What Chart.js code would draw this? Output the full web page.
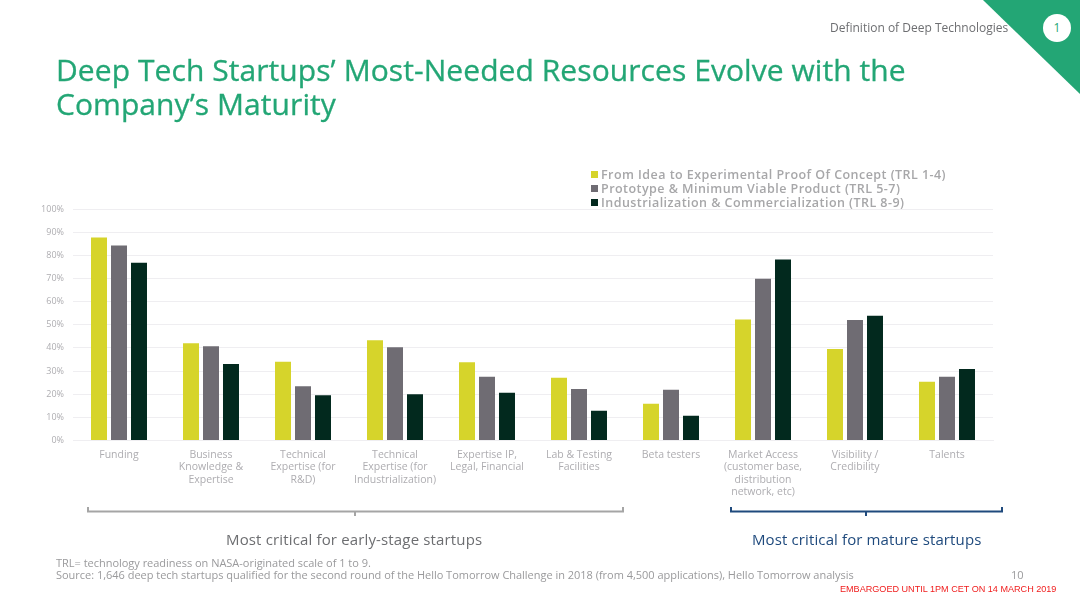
<!DOCTYPE html>
<html>
<head>
<meta charset="utf-8">
<script src="https://cdn.jsdelivr.net/npm/chart.js@4"></script>
<style>
    html, body { margin: 0; padding: 0; background: #fff; }
    body { width: 1080px; height: 608px; position: relative; overflow: hidden; font-family: "Open Sans", sans-serif; }
    #chart { position: absolute; left: 0; top: 0; }
    .txt { position: absolute; white-space: nowrap; }
    #title { left: 56px; top: 53px; font-size: 30px; line-height: 34px; letter-spacing: 0.07px; color: #23a675; -webkit-text-stroke: 0.3px #23a675; }
    #section { left: 830px; top: 20px; font-size: 12px; line-height: 16px; color: #6d6e71; }
    #badge { left: 1043px; top: 14px; width: 28px; height: 28px; border-radius: 50%; background: #fff; color: #23a675; font-size: 12px; line-height: 28px; text-align: center; }
    #legend { position: absolute; left: 591px; top: 168px; font-size: 12.5px; line-height: 14px; letter-spacing: 0.45px; font-weight: 600; color: #a7a7a9; white-space: nowrap; }
    #legend i { display: inline-block; width: 7px; height: 7px; margin-right: 3px; vertical-align: 1px; }
    #early { left: 226px; top: 530px; font-size: 15px; line-height: 18px; letter-spacing: 0.15px; color: #6d6e71; }
    #mature { left: 752px; top: 530px; font-size: 15px; line-height: 18px; letter-spacing: 0.12px; color: #1f4a7d; }
    #foot { left: 56px; top: 557px; font-size: 11px; line-height: 12px; letter-spacing: -0.02px; color: #9a9a9c; }
    #page { left: 1011px; top: 569px; font-size: 11px; line-height: 12px; color: #9a9a9c; }
    #embargo { left: 840px; top: 583px; font-family: "Liberation Sans", sans-serif; font-size: 9.08px; line-height: 12px; color: #f01c1c; }
    svg { position: absolute; left: 0; top: 0; }
</style>
</head>
<body>
<canvas id="chart" width="1080" height="608"></canvas>
<svg width="1080" height="608" fill="none" stroke-width="2">
    <polygon points="983,0 1080,0 1080,94" fill="#23a675"/>
    <path d="M88 507V511.5H623V507M355 511.5V516" stroke="#a5a5a5"/>
    <path d="M731 507V511.5H1002V507M866 511.5V516" stroke="#1f4a7d"/>
</svg>
<div class="txt" id="section">Definition of Deep Technologies</div>
<div class="txt" id="badge">1</div>
<div class="txt" id="title">Deep Tech Startups’ Most-Needed Resources Evolve with the<br>Company’s Maturity</div>
<div id="legend"></div>
<div class="txt" id="early">Most critical for early-stage startups</div>
<div class="txt" id="mature">Most critical for mature startups</div>
<div class="txt" id="foot">TRL= technology readiness on NASA-originated scale of 1 to 9.<br>Source: 1,646 deep tech startups qualified for the second round of the Hello Tomorrow Challenge in 2018 (from 4,500 applications), Hello Tomorrow analysis</div>
<div class="txt" id="page">10</div>
<div class="txt" id="embargo">EMBARGOED UNTIL 1PM CET ON 14 MARCH 2019</div>
<script>
const categories = [
    'Funding',
    ['Business', 'Knowledge &', 'Expertise'],
    ['Technical', 'Expertise (for', 'R&D)'],
    ['Technical', 'Expertise (for', 'Industrialization)'],
    ['Expertise IP,', 'Legal, Financial'],
    ['Lab & Testing', 'Facilities'],
    'Beta testers',
    ['Market Access', '(customer base,', 'distribution', 'network, etc)'],
    ['Visibility /', 'Credibility'],
    'Talents'
];
const seriesNames = [
    'From Idea to Experimental Proof Of Concept (TRL 1-4)',
    'Prototype & Minimum Viable Product (TRL 5-7)',
    'Industrialization & Commercialization (TRL 8-9)'
];
const seriesColors = ['#d6d42b', '#6f6c73', '#02291e'];
const ideaValues = [87.7, 42, 34, 43.3, 33.8, 27.1, 15.9, 52.3, 39.5, 25.4];
const prototypeValues = [84.2, 40.7, 23.4, 40.3, 27.5, 22.3, 21.9, 69.9, 52, 27.5];
const industrialValues = [76.8, 33, 19.6, 20, 20.6, 12.9, 10.7, 78.2, 53.9, 30.9];

const legendBox = document.getElementById('legend');
seriesNames.forEach((name, i) => {
    const row = document.createElement('div');
    const swatch = document.createElement('i');
    swatch.style.background = seriesColors[i];
    row.append(swatch, name);
    legendBox.append(row);
});

new Chart(document.getElementById('chart').getContext('2d'), {
    type: 'bar',
    data: {
        labels: categories,
        datasets: [ideaValues, prototypeValues, industrialValues].map((data, i) => ({
            label: seriesNames[i],
            data,
            backgroundColor: seriesColors[i],
            categoryPercentage: 0.652,
            barPercentage: 0.8
        }))
    },
    options: {
        responsive: false,
        animation: false,
        layout: { padding: { top: 209, right: 87, left: 0, bottom: 0 } },
        plugins: { legend: { display: false }, tooltip: { enabled: false } },
        scales: {
            x: {
                afterFit: axis => { axis.height = 167.5; },
                grid: { display: false },
                border: { color: '#efeef1' },
                ticks: { color: '#aeadb1', font: { family: 'Open Sans', size: 10.5, lineHeight: 1.19 }, padding: 0, maxRotation: 0, autoSkip: false }
            },
            y: {
                min: 0,
                max: 100,
                afterFit: axis => { axis.width = 73; },
                grid: { color: '#efeef1', drawTicks: false },
                border: { display: false },
                ticks: { stepSize: 10, color: '#aeadb1', padding: 9, callback: v => v + '%', font: { family: 'Open Sans', size: 9 } }
            }
        }
    }
});
</script>
</body>
</html>
